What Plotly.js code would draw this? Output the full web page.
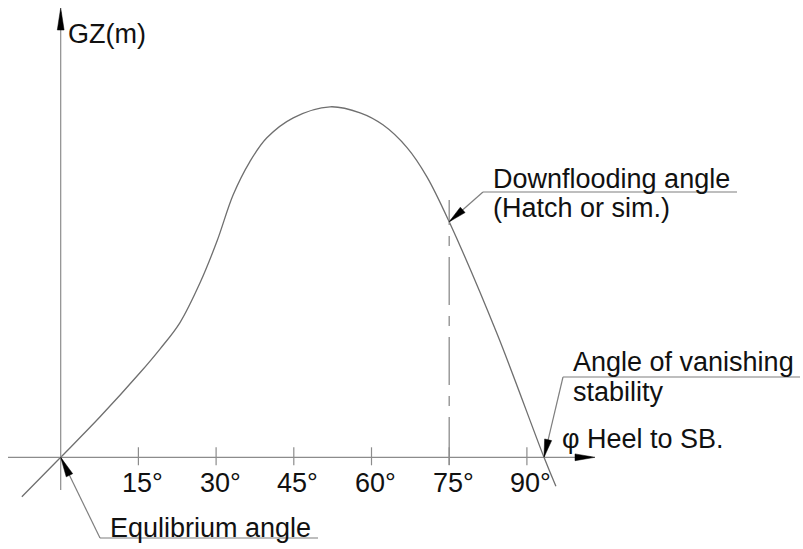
<!DOCTYPE html>
<html>
<head>
<meta charset="utf-8">
<script src="https://cdn.plot.ly/plotly-3.0.1.min.js"></script>
<style>html,body{margin:0;padding:0;background:#fff;}#chart{width:803px;height:549px;}</style>
</head>
<body>
<div id="chart"></div>
<script>
// ---- data (heel angle in degrees, GZ in metres) ----
const heelAngle = [-7.5, 0, 7.6, 15.3, 19.2, 23.0, 26.9, 30.2, 33.3, 36.5, 39.8, 44.9, 52.0, 57.8, 62.2, 66.9, 70.7, 75.0, 84.2, 93.3, 95.6];
const gzValues  = [-0.079, 0, 0.081, 0.169, 0.217, 0.269, 0.349, 0.433, 0.525, 0.591, 0.639, 0.679, 0.701, 0.689, 0.665, 0.619, 0.561, 0.471, 0.248, 0, -0.058];
const tickValues = [15, 30, 45, 60, 75, 90];
const tickLabels = ["15°", "30°", "45°", "60°", "75°", "90°"];
const downfloodAngle = 75.0;
const downfloodGZ = 0.471;
const vanishingAngle = 93.3;
const equilibriumAngle = 0;
const yTitle = "GZ(m)";
const xTitle = "φ Heel to SB.";
const labelDownflood = ["Downflooding angle", "(Hatch or sim.)"];
const labelVanishing = ["Angle of vanishing", "stability"];
const labelEquilibrium = "Equlibrium angle";

// ---- scale (pixel <-> data) ----
const X0 = 60.7, Y0 = 457.3, KX = 5.18, KY = 500, W = 803, H = 549;
const dx = p => (p - X0) / KX;          // pixel x -> data x
const dy = p => (Y0 - p) / KY;          // pixel y -> data y
const pxX = x => X0 + x * KX;           // data x -> pixel x
const pxY = y => Y0 - y * KY;           // data y -> pixel y

const AXIS = '#8c8c8c', CURVE = '#6f6f6f', LEAD = '#7f7f7f', INK = '#000000';
const FONT = {family: 'Liberation Sans, Arial, sans-serif', size: 27, color: '#111111'};

function line(x0, y0, x1, y1, color, width, dash) {
  return {type: 'line', xref: 'x', yref: 'y', x0: x0, y0: y0, x1: x1, y1: y1,
          line: {color: color, width: width || 1, dash: dash || 'solid'}, layer: 'above'};
}
// triangle arrowhead: tip & tail given in pixels
function head(tx, ty, fx, fy, len, hw) {
  const vx = tx - fx, vy = ty - fy, n = Math.hypot(vx, vy);
  const ux = vx / n, uy = vy / n;
  const bx = tx - ux * len, by = ty - uy * len;
  const p1 = [bx - uy * hw, by + ux * hw], p2 = [bx + uy * hw, by - ux * hw];
  const P = (p) => dx(p[0]) + ',' + dy(p[1]);
  return {type: 'path', xref: 'x', yref: 'y', path: 'M' + P([tx, ty]) + ' L' + P(p1) + ' L' + P(p2) + ' Z',
          fillcolor: INK, line: {color: INK, width: 0.5}, layer: 'above'};
}

const shapes = [];
// horizontal axis with arrow
const xAxisEndPx = 595;
shapes.push(line(dx(8), 0, dx(xAxisEndPx - 4), 0, AXIS, 1.2));
shapes.push(head(xAxisEndPx, Y0, 0, Y0, 20, 3.4));
// vertical axis with arrow
const yAxisTopPx = 8;
shapes.push(line(0, dy(490), 0, dy(yAxisTopPx + 4), AXIS, 1.2));
shapes.push(head(X0, yAxisTopPx, X0, 500, 22, 3.4));
// ticks
tickValues.forEach(t => shapes.push(line(t, dy(Y0 - 10), t, dy(Y0 + 8), AXIS, 1.2)));
// downflooding centre line
shapes.push(line(downfloodAngle, dy(465), downfloodAngle, dy(200), AXIS, 1.3, '48px,11px,10px,11px'));

// leaders
const dfTip = [pxX(downfloodAngle), pxY(downfloodGZ)];
const dfElbow = [483, 192];
shapes.push(line(dx(dfElbow[0]), dy(dfElbow[1]), dx(737), dy(dfElbow[1]), LEAD, 1.2));
shapes.push(line(dx(dfElbow[0]), dy(dfElbow[1]), downfloodAngle, downfloodGZ, LEAD, 1.2));
shapes.push(head(dfTip[0], dfTip[1], dfElbow[0], dfElbow[1], 18, 3.6));

const vTip = [pxX(vanishingAngle), pxY(0)];
const vElbow = [563, 377];
shapes.push(line(dx(vElbow[0]), dy(vElbow[1]), dx(800), dy(vElbow[1]), LEAD, 1.2));
shapes.push(line(dx(vElbow[0]), dy(vElbow[1]), vanishingAngle, 0, LEAD, 1.2));
shapes.push(head(vTip[0], vTip[1], vElbow[0], vElbow[1], 18, 3.6));

const eTip = [pxX(equilibriumAngle), pxY(0)];
const eElbow = [100, 538];
shapes.push(line(dx(eElbow[0]), dy(eElbow[1]), dx(318), dy(eElbow[1]), LEAD, 1.2));
shapes.push(line(dx(eElbow[0]), dy(eElbow[1]), equilibriumAngle, 0, LEAD, 1.2));
shapes.push(head(eTip[0], eTip[1], eElbow[0], eElbow[1], 20, 3.6));

// ---- annotations ----
function txt(text, leftPx, midPx) {
  return {text: text, x: dx(leftPx), y: dy(midPx), xref: 'x', yref: 'y', xanchor: 'left', yanchor: 'middle',
          showarrow: false, font: FONT, borderpad: 0};
}
const annotations = [
  txt(yTitle, 67, 34),
  txt(labelDownflood[0], 492, 178.5),
  txt(labelDownflood[1], 492, 207.5),
  txt(labelVanishing[0], 572, 362),
  txt(labelVanishing[1], 572, 392),
  txt(xTitle, 561, 439),
  txt(labelEquilibrium, 109, 527.5)
];
tickValues.forEach((t, i) => annotations.push({
  text: tickLabels[i], x: t, y: dy(483), xref: 'x', yref: 'y', xanchor: 'center', yanchor: 'middle',
  xshift: 4, showarrow: false, font: FONT, borderpad: 0
}));

const trace = {
  x: heelAngle, y: gzValues, type: 'scatter', mode: 'lines',
  line: {color: CURVE, width: 1.3, shape: 'spline', smoothing: 1},
  hoverinfo: 'skip'
};

const hiddenAxis = {showgrid: false, zeroline: false, showticklabels: false, ticks: '', showline: false, fixedrange: true};
const layout = {
  width: W, height: H, margin: {l: 0, r: 0, t: 0, b: 0, pad: 0},
  paper_bgcolor: '#ffffff', plot_bgcolor: '#ffffff', showlegend: false,
  xaxis: Object.assign({range: [dx(0), dx(W)], domain: [0, 1]}, hiddenAxis),
  yaxis: Object.assign({range: [dy(H), dy(0)], domain: [0, 1]}, hiddenAxis),
  shapes: shapes, annotations: annotations
};
Plotly.newPlot('chart', [trace], layout, {staticPlot: true, displayModeBar: false});
</script>
</body>
</html>
